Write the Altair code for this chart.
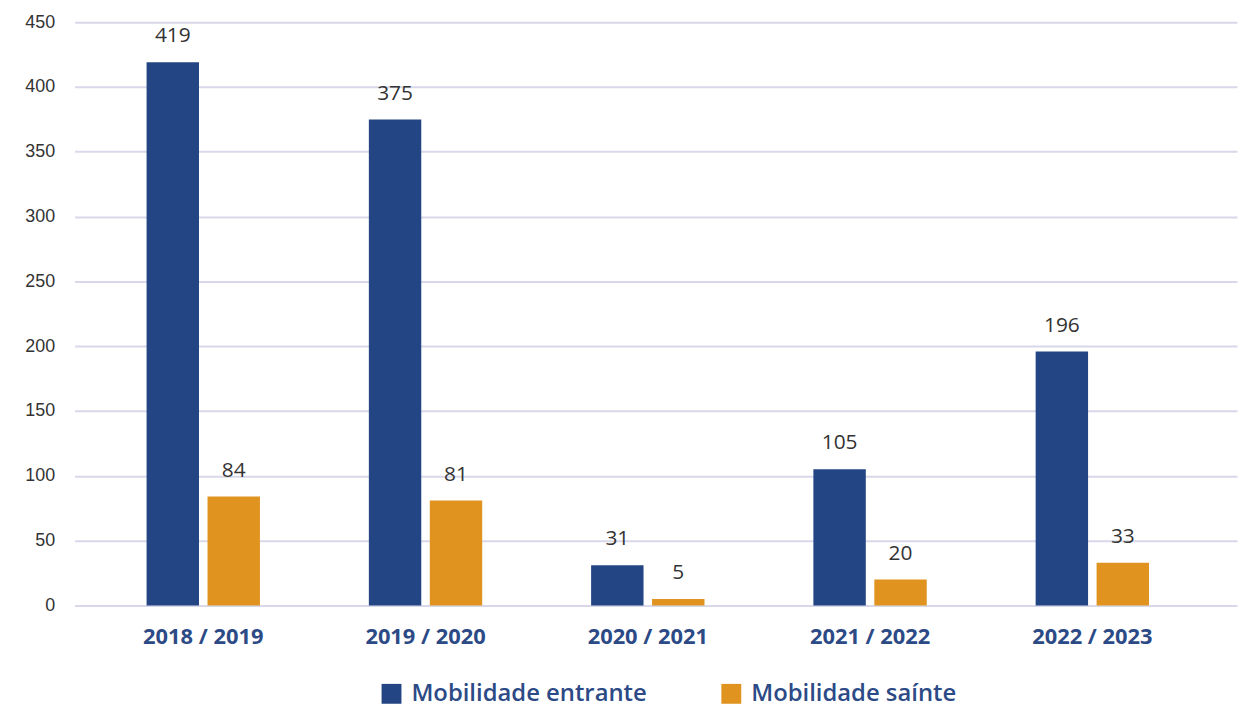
import altair as alt
import pandas as pd

seasons = ["2018 / 2019", "2019 / 2020", "2020 / 2021", "2021 / 2022", "2022 / 2023"]
entrante = [419, 375, 31, 105, 196]
sainte = [84, 81, 5, 20, 33]
series = ["Mobilidade entrante", "Mobilidade saínte"]
colors = ["#234584", "#e0931e"]

rows = []
for s, e, o in zip(seasons, entrante, sainte):
    rows.append({"season": s, "type": series[0], "value": e})
    rows.append({"season": s, "type": series[1], "value": o})
df = pd.DataFrame(rows)

x = alt.X("season:N", sort=seasons, title=None,
          scale=alt.Scale(paddingInner=0.49, paddingOuter=0.36, align=0.45),
          axis=alt.Axis(labelAngle=0, labelFont="Open Sans", labelFontSize=22,
                        labelFontWeight="bold", labelColor="#2c4a86",
                        labelPadding=21, ticks=False, domain=False))
xo = alt.XOffset("type:N", sort=series, scale=alt.Scale(paddingInner=0.14))
y = alt.Y("value:Q", title=None,
          scale=alt.Scale(domain=[0, 450]),
          axis=alt.Axis(values=list(range(0, 451, 50)), labelFont="Liberation Sans",
                        labelFontSize=18, labelColor="#333333", labelPadding=20,
                        ticks=False, domain=False, gridColor="#d8d8ea", gridWidth=2))

bars = alt.Chart(df).mark_bar().encode(
    x=x, xOffset=xo, y=y,
    color=alt.Color("type:N", sort=series,
                    scale=alt.Scale(domain=series, range=colors),
                    legend=alt.Legend(title=None, orient="none", direction="horizontal",
                                      legendX=307, legendY=664,
                                      symbolType="square", symbolSize=400,
                                      symbolStrokeWidth=0, labelFont="Open Sans",
                                      labelFontSize=24, labelFontWeight=600,
                                      labelColor="#2c4a86", columnPadding=72,
                                      labelOffset=8, labelLimit=0)),
)

labels = alt.Chart(df).mark_text(dy=-16, baseline="bottom", font="Open Sans",
                                 fontSize=21, color="#333333").encode(
    x=alt.X("season:N", sort=seasons),
    xOffset=alt.XOffset("type:N", sort=series),
    y=alt.Y("value:Q"),
    text=alt.Text("value:Q"),
)

chart = (bars + labels).properties(
    width=1170, height=587,
    autosize=alt.AutoSizeParams(type="none"),
    padding={"left": 67, "top": 12, "right": 4, "bottom": 102},
).configure_view(stroke=None)

chart.save("out.html", embed_options={"renderer": "svg", "actions": False})
